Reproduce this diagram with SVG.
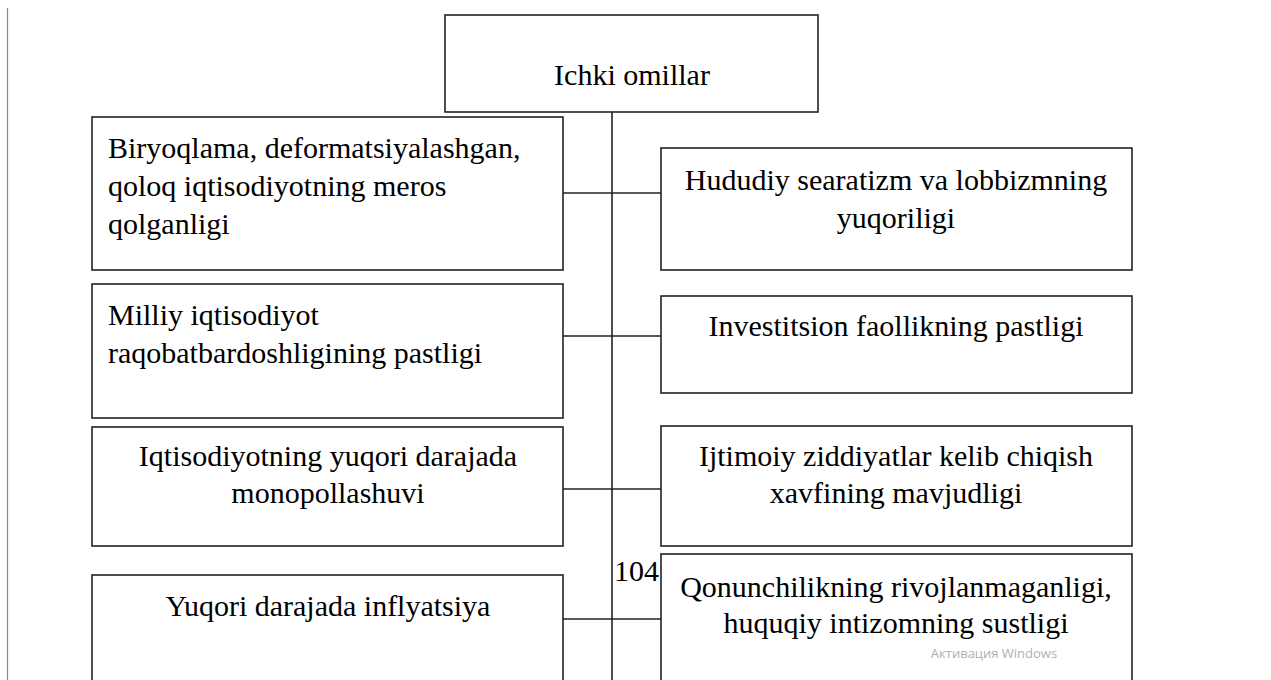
<svg xmlns="http://www.w3.org/2000/svg" width="1271" height="680" viewBox="0 0 1271 680">
<style>
.box{fill:#fff;stroke:#222;stroke-width:1.6}
.ln{stroke:#222;stroke-width:1.6;fill:none}
.t{font-family:"Liberation Serif","Times New Roman",serif;font-size:30px;fill:#000}
.c{text-anchor:middle}
</style>
<rect width="1271" height="680" fill="#fff"/>
<line x1="7.5" y1="8" x2="7.5" y2="680" stroke="#888" stroke-width="1.2"/>
<g id="connectors">
<line class="ln" x1="612" y1="112" x2="612" y2="680"/>
<line class="ln" x1="563" y1="193" x2="661" y2="193"/>
<line class="ln" x1="563" y1="336" x2="661" y2="336"/>
<line class="ln" x1="563" y1="489" x2="661" y2="489"/>
<line class="ln" x1="563" y1="619" x2="661" y2="619"/>
</g>
<g id="top">
<rect class="box" x="445" y="15" width="373" height="97"/>
<text class="t c" x="632" y="85">Ichki omillar</text>
</g>
<g id="left1">
<rect class="box" x="92" y="117" width="471" height="153"/>
<text class="t" x="108" y="158">Biryoqlama, deformatsiyalashgan,</text>
<text class="t" x="108" y="196">qoloq iqtisodiyotning meros</text>
<text class="t" x="108" y="234">qolganligi</text>
</g>
<g id="left2">
<rect class="box" x="92" y="284" width="471" height="134"/>
<text class="t" x="108" y="325">Milliy iqtisodiyot</text>
<text class="t" x="108" y="363">raqobatbardoshligining pastligi</text>
</g>
<g id="left3">
<rect class="box" x="92" y="427" width="471" height="119"/>
<text class="t c" x="328" y="466">Iqtisodiyotning yuqori darajada</text>
<text class="t c" x="328" y="503">monopollashuvi</text>
</g>
<g id="left4">
<rect class="box" x="92" y="575" width="471" height="120"/>
<text class="t c" x="328" y="616">Yuqori darajada inflyatsiya</text>
</g>
<g id="right1">
<rect class="box" x="661" y="148" width="471" height="122"/>
<text class="t c" x="896" y="190">Hududiy searatizm va lobbizmning</text>
<text class="t c" x="896" y="228">yuqoriligi</text>
</g>
<g id="right2">
<rect class="box" x="661" y="296" width="471" height="97"/>
<text class="t c" x="896" y="336">Investitsion faollikning pastligi</text>
</g>
<g id="right3">
<rect class="box" x="661" y="426" width="471" height="120"/>
<text class="t c" x="896" y="466">Ijtimoiy ziddiyatlar kelib chiqish</text>
<text class="t c" x="896" y="503">xavfining mavjudligi</text>
</g>
<g id="right4">
<rect class="box" x="661" y="554" width="471" height="140"/>
<text class="t c" x="896" y="597">Qonunchilikning rivojlanmaganligi,</text>
<text class="t c" x="896" y="633">huquqiy intizomning sustligi</text>
</g>
<text class="t" x="659" y="581" text-anchor="end">104</text>
<text x="994" y="658" text-anchor="middle" font-family="'Open Sans','Liberation Sans',sans-serif" font-size="13" fill="#b0b0b0">Активация Windows</text>
</svg>
